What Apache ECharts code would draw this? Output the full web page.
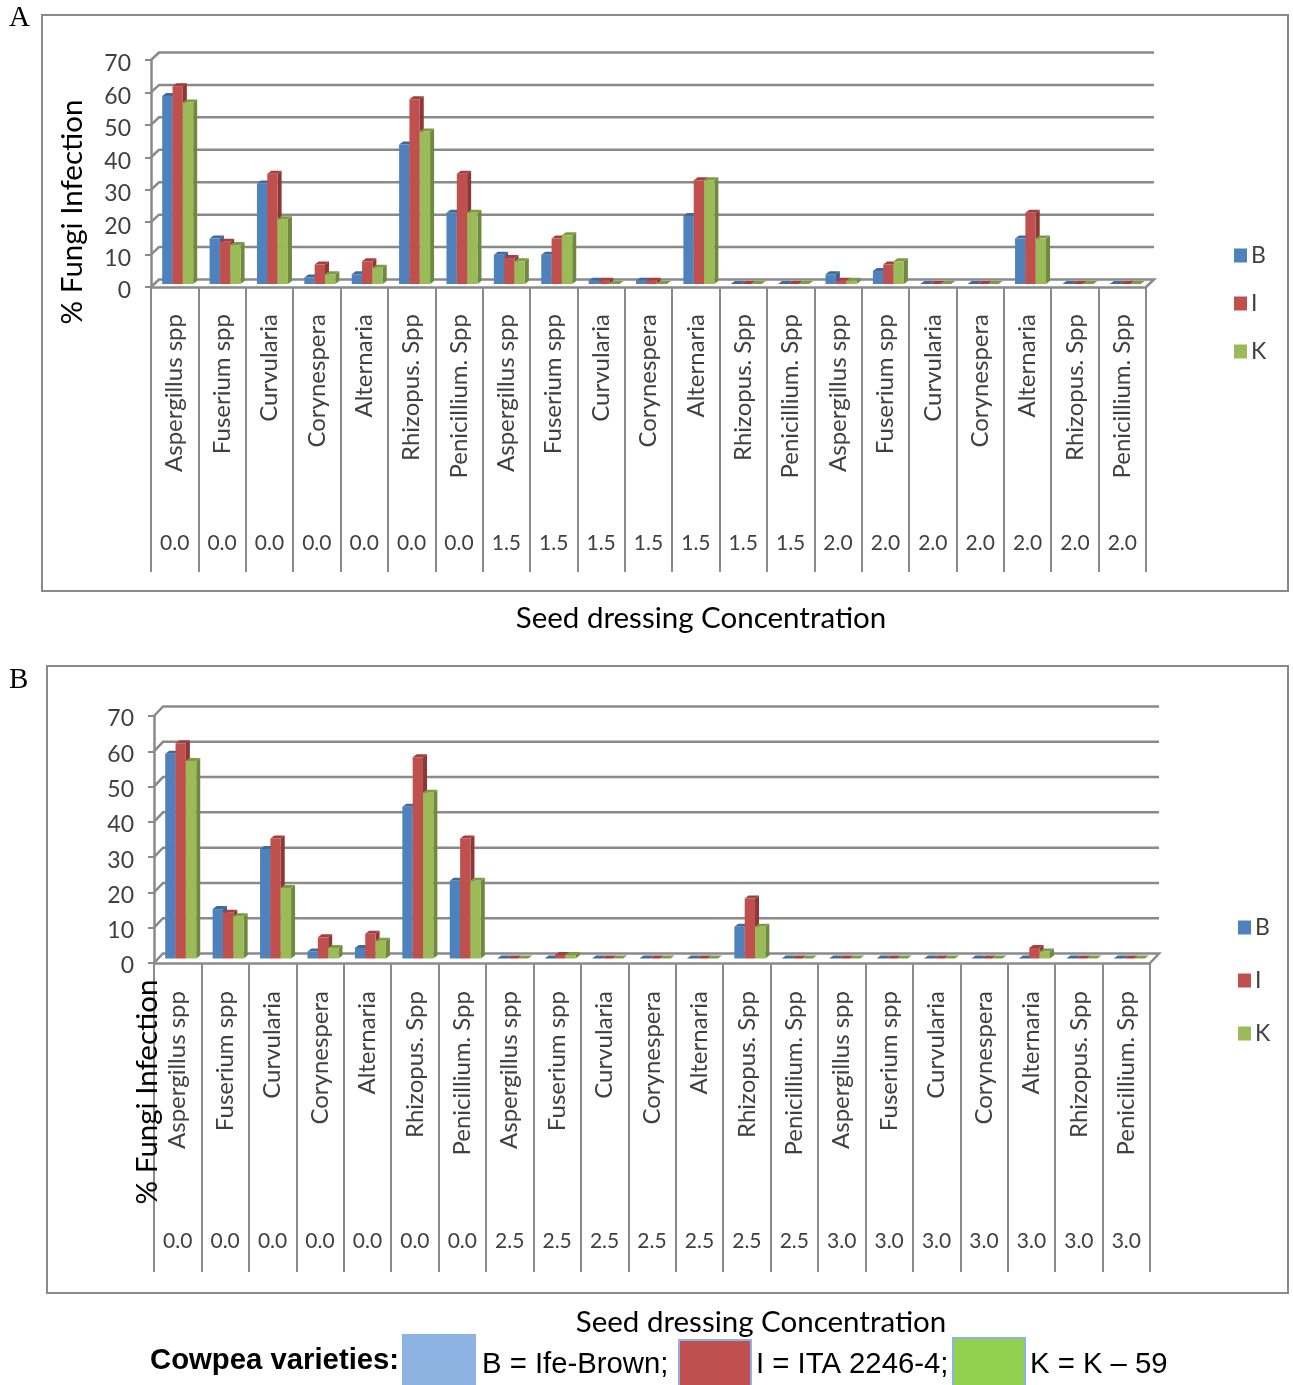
<!DOCTYPE html>
<html>
<head>
    <meta charset="utf-8">
    <title>Chart</title>
    <script src="https://cdn.jsdelivr.net/npm/echarts@6/dist/echarts.min.js"></script>
    <style>
        html, body { margin: 0; padding: 0; background: #fff; }
        #main { width: 1293px; height: 1385px; }
    </style>
</head>
<body>
    <div id="main"></div>
    <script type="text/javascript">
        var species = ['Aspergillus spp', 'Fuserium spp', 'Curvularia', 'Corynespera', 'Alternaria', 'Rhizopus. Spp', 'Penicillium. Spp',
            'Aspergillus spp', 'Fuserium spp', 'Curvularia', 'Corynespera', 'Alternaria', 'Rhizopus. Spp', 'Penicillium. Spp',
            'Aspergillus spp', 'Fuserium spp', 'Curvularia', 'Corynespera', 'Alternaria', 'Rhizopus. Spp', 'Penicillium. Spp'];
        var concA = ['0.0', '0.0', '0.0', '0.0', '0.0', '0.0', '0.0', '1.5', '1.5', '1.5', '1.5', '1.5', '1.5', '1.5', '2.0', '2.0', '2.0', '2.0', '2.0', '2.0', '2.0'];
        var concB = ['0.0', '0.0', '0.0', '0.0', '0.0', '0.0', '0.0', '2.5', '2.5', '2.5', '2.5', '2.5', '2.5', '2.5', '3.0', '3.0', '3.0', '3.0', '3.0', '3.0', '3.0'];
        var yTicks = [0, 10, 20, 30, 40, 50, 60, 70];

        // panel A
        var aB = [58, 14, 31, 2, 3, 43, 22, 9, 9, 1, 1, 21, 0, 0, 3, 4, 0, 0, 14, 0, 0];
        var aI = [61, 13, 34, 6, 7, 57, 34, 8, 14, 1, 1, 32, 0, 0, 1, 6, 0, 0, 22, 0, 0];
        var aK = [56, 12, 20, 3, 5, 47, 22, 7, 15, 0, 0, 32, 0, 0, 1, 7, 0, 0, 14, 0, 0];
        // panel B
        var bB = [58, 14, 31, 2, 3, 43, 22, 0, 0, 0, 0, 0, 9, 0, 0, 0, 0, 0, 0, 0, 0];
        var bI = [61, 13, 34, 6, 7, 57, 34, 0, 1, 0, 0, 0, 17, 0, 0, 0, 0, 0, 3, 0, 0];
        var bK = [56, 12, 20, 3, 5, 47, 22, 0, 1, 0, 0, 0, 9, 0, 0, 0, 0, 0, 2, 0, 0];

        var colors = ['#4f81bd', '#c0504d', '#9bbb59'];
        var sideColors = ['#3a608e', '#8c3836', '#6f8a3e'];
        var topColors = ['#41699b', '#a33f3d', '#7f9a47'];
        var lineColor = '#8a8a8a';
        var labelFont = 'Lato';
        var myChart = echarts.init(document.getElementById('main'));

        // back wall lines of the fake 3D plot
        function wallRender(dx, dy) {
            return function (params, api) {
                var band = api.size([1, 0])[0];
                var p = api.coord([0, api.value(1)]);
                var last = api.coord([20, api.value(1)]);
                var x0 = p[0] - band / 2, x1 = last[0] + band / 2, y = p[1];
                var pts = [[x0, y], [x0 + dx, y - dy], [x1 + dx, y - dy]];
                if (api.value(1) === 0) pts.push([x1, y]);
                return {
                    type: 'polyline',
                    shape: { points: pts },
                    style: { stroke: lineColor, lineWidth: 2.5, fill: null }
                };
            };
        }

        // one 3D looking bar, idx is the position inside the group
        function barRender(idx, dy) {
            return function (params, api) {
                var band = api.size([1, 0])[0];
                var w = band * 0.218, dp = 4, up = 3;
                var top = api.coord([api.value(0), api.value(1)]);
                var base = api.coord([api.value(0), 0]);
                var x = top[0] + 3 - w * 1.5 + idx * w;
                var yt = top[1] - dy, yb = base[1] - dy;
                return {
                    type: 'group',
                    children: [
                        { type: 'polygon', shape: { points: [[x + w, yt], [x + w + dp, yt - up], [x + w + dp, yb - up], [x + w, yb]] }, style: { fill: sideColors[idx] } },
                        { type: 'polygon', shape: { points: [[x, yt], [x + dp, yt - up], [x + w + dp, yt - up], [x + w, yt]] }, style: { fill: topColors[idx] } },
                        { type: 'rect', shape: { x: x, y: yt, width: w, height: yb - yt }, style: { fill: api.visual('color') } }
                    ]
                };
            };
        }

        function zip(values) {
            return values.map(function (v, i) { return [i, v]; });
        }

        var option = {
            animation: false,
            backgroundColor: '#fff',
            grid: [], xAxis: [], yAxis: [], series: [], legend: [],
            graphic: []
        };

        function addPanel(i, cfg) {
            option.grid.push({ left: cfg.left, top: cfg.top, width: cfg.width, height: cfg.height });
            option.xAxis.push({
                type: 'category', gridIndex: i, data: species, position: 'bottom',
                axisLine: { lineStyle: { color: lineColor, width: 2.5 } },
                axisTick: { show: true, inside: false, length: cfg.tick, lineStyle: { color: lineColor, width: 2 } },
                axisLabel: { interval: 0, rotate: 90, margin: cfg.nameMargin, fontFamily: labelFont, fontSize: 24, color: '#404040', hideOverlap: false }
            });
            option.xAxis.push({
                type: 'category', gridIndex: i, data: cfg.conc, position: 'bottom',
                axisLine: { show: false }, axisTick: { show: false },
                axisLabel: { interval: 0, margin: cfg.concMargin, fontFamily: labelFont, fontSize: 21, color: '#404040', hideOverlap: false }
            });
            option.yAxis.push({
                type: 'value', gridIndex: i, min: 0, max: 70, interval: 10,
                axisLine: { show: true, lineStyle: { color: lineColor, width: 2.5 } },
                axisTick: { show: true, length: 6, lineStyle: { color: lineColor, width: 2 } },
                axisLabel: {
                    margin: 20, formatter: '{v|{value}}',
                    rich: { v: { fontFamily: labelFont, fontSize: 23, color: '#404040', padding: [cfg.labelDrop, 0, 0, 0] } }
                },
                splitLine: { show: false }
            });
            option.series.push({
                type: 'custom', name: 'wall' + i, xAxisIndex: i * 2, yAxisIndex: i, z: 1, clip: false, silent: true,
                renderItem: wallRender(cfg.dx, cfg.dy),
                data: yTicks.map(function (v) { return [0, v]; })
            });
            ['B', 'I', 'K'].forEach(function (name, k) {
                option.series.push({
                    type: 'custom', name: name, xAxisIndex: i * 2, yAxisIndex: i, z: 3 + k, clip: false,
                    itemStyle: { color: colors[k] },
                    renderItem: barRender(k, cfg.barUp),
                    data: zip(cfg.values[k])
                });
            });
            option.legend.push({
                orient: 'vertical', left: cfg.legendLeft, top: cfg.legendTop,
                data: ['B', 'I', 'K'], itemWidth: 13, itemHeight: 14, itemGap: cfg.legendGap,
                icon: 'rect', padding: 0,
                textStyle: { fontFamily: labelFont, fontSize: 23, color: '#404040', padding: [0, 0, 0, -1] }
            });
            option.graphic.push({
                type: 'rect', z: -1, silent: true,
                shape: { x: cfg.frame[0], y: cfg.frame[1], width: cfg.frame[2], height: cfg.frame[3] },
                style: { fill: '#fff', stroke: lineColor, lineWidth: 2 }
            });
            option.graphic.push({
                type: 'text', x: cfg.yTitle[0], y: cfg.yTitle[1], rotation: Math.PI / 2, z: 20,
                style: { text: '% Fungi Infection', fontFamily: labelFont, fontSize: 29.5, fill: '#000', textAlign: 'center', textVerticalAlign: 'middle' }
            });
            option.graphic.push({
                type: 'text', x: cfg.xTitle[0], y: cfg.xTitle[1], z: 20,
                style: { text: 'Seed dressing Concentration', fontFamily: labelFont, fontSize: 29.5, fill: '#000', textAlign: 'center', textVerticalAlign: 'middle' }
            });
        }

        addPanel(0, {
            left: 151, top: 60, width: 995, height: 227, tick: 285, nameMargin: 27, concMargin: 246,
            dx: 8, dy: 7.5, barUp: 3, conc: concA, values: [aB, aI, aK], labelDrop: 8,
            legendLeft: 1234, legendTop: 244, legendGap: 25,
            frame: [42, 15, 1246, 576], yTitle: [72, 212], xTitle: [701, 618]
        });
        addPanel(1, {
            left: 154, top: 716, width: 996, height: 247, tick: 309, nameMargin: 28, concMargin: 268,
            dx: 9, dy: 9.5, barUp: 4.5, conc: concB, values: [bB, bI, bK], labelDrop: 6,
            legendLeft: 1238, legendTop: 916, legendGap: 30,
            frame: [47, 666, 1241, 627], yTitle: [147, 1092], xTitle: [761, 1322]
        });

        function addText(t, x, y, font, size, weight) {
            option.graphic.push({
                type: 'text', x: x, y: y, z: 20,
                style: { text: t, fontFamily: font, fontSize: size, fontWeight: weight || 'normal', fill: '#000', textVerticalAlign: 'middle' }
            });
        }
        function addSwatch(x, y, w, h, color, border) {
            option.graphic.push({
                type: 'rect', z: 10, shape: { x: x, y: y, width: w, height: h },
                style: { fill: color, stroke: border, lineWidth: 2 }
            });
        }

        addText('A', 9, 18, 'Liberation Serif', 29);
        addText('B', 9, 680, 'Liberation Serif', 29);
        addText('Cowpea varieties:', 150, 1361, 'Liberation Sans', 29.3, 'bold');
        addSwatch(403, 1335, 72, 52, '#8db3e2', '#8db3e2');
        addText('B = Ife-Brown;', 482, 1365, 'Liberation Sans', 29.3);
        addSwatch(679, 1340, 72, 47, '#c0504d', '#8db3e2');
        addText('I = ITA 2246-4;', 756, 1365, 'Liberation Sans', 29.3);
        addSwatch(953, 1338, 72, 49, '#92d050', '#8db3e2');
        addText('K = K \u2013 59', 1030, 1365, 'Liberation Sans', 29.3);

        myChart.setOption(option);
    </script>
</body>
</html>
